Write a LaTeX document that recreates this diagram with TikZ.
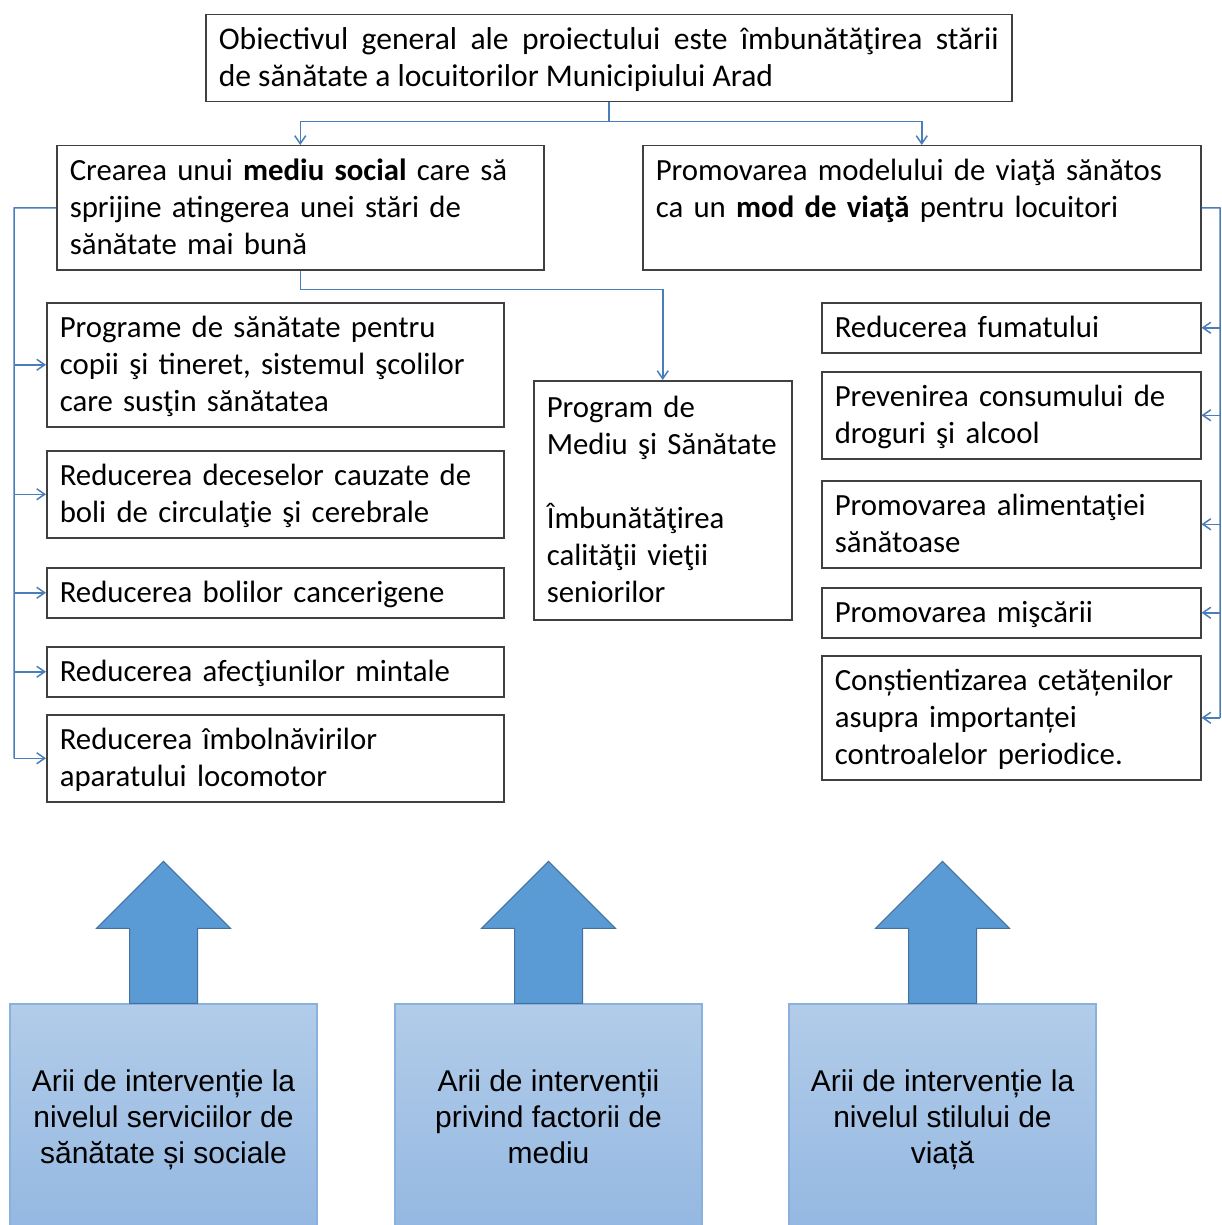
\documentclass[tikz,border=0pt]{standalone}
\usepackage{fontspec}
\setmainfont{Carlito}
\newfontfamily\arialfont{Liberation Sans}
\usepackage{tikz}
\usetikzlibrary{arrows.meta,positioning,calc}
\definecolor{linkblue}{HTML}{4A7EBB}
\definecolor{boxtop}{HTML}{B2CCE9}
\definecolor{boxbot}{HTML}{93B7E1}
\definecolor{boxedge}{HTML}{8AB0DE}
\definecolor{arrfill}{HTML}{5B9BD5}
\definecolor{arredge}{HTML}{41719C}

\begin{document}
\begin{tikzpicture}[x=0.5pt,y=-0.5pt,>={Straight Barb[length=4pt,width=5.5pt]},
  item/.style={rectangle,draw=black!75,line width=0.75pt,anchor=north west,align=left,
    inner xsep=6.5pt,inner ysep=3.25pt,font=\fontsize{15.4}{18.5}\selectfont,
    execute at begin node=\rule{0pt}{13.95pt},execute at end node=\rule[-4.55pt]{0pt}{4.55pt}},
  area/.style={rectangle,draw=boxedge,line width=0.6pt,top color=boxtop,bottom color=boxbot,
    minimum width=153.5pt,minimum height=118pt,align=center,
    font=\arialfont\fontsize{15}{18}\selectfont,
    execute at begin node=\strut,execute at end node=\strut},
  bigarrow/.style={fill=arrfill,draw=arredge,line width=0.5pt},
  conn/.style={draw=linkblue,line width=0.75pt}]
\useasboundingbox (0,0) rectangle (1221,1225);

\node[item,align=justify,text width=390pt,font=\fontsize{15.8}{18.5}\selectfont] (obj) at (205,14) {Obiectivul general ale proiectului este îmbunătăţirea stării\linebreak de sănătate a locuitorilor Municipiului Arad};

\node[item,text width=230.5pt] (soc) at (56,145) {Crearea unui \textbf{mediu social} care să\\sprijine atingerea unei stări de\\sănătate mai bună};
\node[item,text width=266pt] (pro) at (642,145) {Promovarea modelului de viaţă sănătos\\ca un \textbf{mod de viaţă} pentru locuitori\\\mbox{}};

\node[item,text width=116pt,minimum height=119.5pt] (prog) at (533,380) {Program de\\Mediu şi Sănătate\\[18.5pt]Îmbunătăţirea\\calităţii vieţii\\seniorilor};

\node[item,text width=215.5pt] (l1) at (46,302) {Programe de sănătate pentru\\copii şi tineret, sistemul şcolilor\\care susţin sănătatea};
\node[item,text width=215.5pt] (l2) at (46,450) {Reducerea deceselor cauzate de\\boli de circulaţie şi cerebrale};
\node[item,text width=215.5pt] (l3) at (46,567) {Reducerea bolilor cancerigene};
\node[item,text width=215.5pt] (l4) at (46,646) {Reducerea afecţiunilor mintale};
\node[item,text width=215.5pt] (l5) at (46,714) {Reducerea îmbolnăvirilor\\aparatului locomotor};

\node[item,text width=176.5pt] (r1) at (821,302) {Reducerea fumatului};
\node[item,text width=176.5pt] (r2) at (821,371) {Prevenirea consumului de\\droguri şi alcool};
\node[item,text width=176.5pt] (r3) at (821,480) {Promovarea alimentaţiei\\sănătoase};
\node[item,text width=176.5pt] (r4) at (821,587) {Promovarea mişcării};
\node[item,text width=176.5pt] (r5) at (821,655) {Conștientizarea cetățenilor\\asupra importanței\\controalelor periodice.};

\draw[conn] (obj.south) -- ++(0,19) coordinate (split);
\draw[conn,->] (split) -| (soc.north);
\draw[conn,->] (split) -| (pro.north);
\draw[conn,->] (soc.south) -- ++(0,19) -| (prog.north);

\coordinate (ls) at (14,208);
\draw[conn] (soc.west) -- (ls) -- (ls |- l5.west);
\foreach \n in {l1,l2,l3,l4,l5}
  \draw[conn,->] (ls |- \n.west) -- (\n.west);

\coordinate (rs) at (1220,208);
\draw[conn] (pro.east) -- (rs) -- (rs |- r5.west);
\foreach \n in {r1,r2,r3,r4,r5}
  \draw[conn,->] (rs |- \n.west) -- (\n.east);

\node[area] (b1) at (163.5,1122) {Arii de intervenție la\\nivelul serviciilor de\\sănătate și sociale};
\node[area] (b2) at (548.5,1122) {Arii de intervenții\\privind factorii de\\mediu};
\node[area] (b3) at (942.5,1122) {Arii de intervenție la\\nivelul stilului de\\viață};

\foreach \b in {b1,b2,b3}
  \draw[bigarrow] (\b.north) ++(-34,0) -- ++(0,-75) -- ++(-33,0) -- ++(67,-67) -- ++(67,67) -- ++(-33,0) -- ++(0,75) -- cycle;
\end{tikzpicture}
\end{document}
